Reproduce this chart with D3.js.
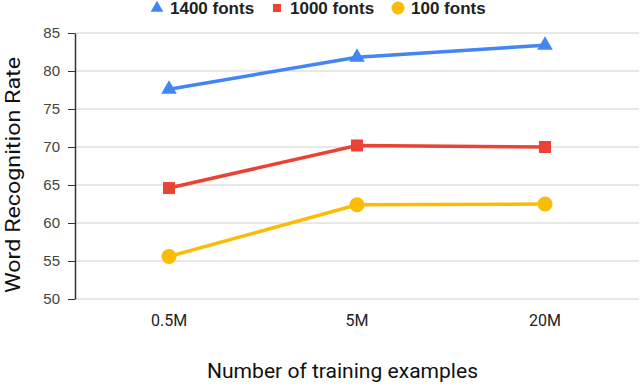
<!DOCTYPE html>
<html>
<head>
<meta charset="utf-8">
<script src="https://cdn.jsdelivr.net/npm/d3@7"></script>
<style>
  body { margin: 0; background: #fff; }
  text { font-family: Roboto, Arial, sans-serif; }
</style>
</head>
<body>
<div id="chart"></div>
<script>
// Chart data
let categories = ['0.5M', '5M', '20M'];
let seriesNames = ['1400 fonts', '1000 fonts', '100 fonts'];
let fonts1400 = [77.6, 81.8, 83.4];
let fonts1000 = [64.6, 70.2, 70.0];
let fonts100 = [55.6, 62.4, 62.5];
let yTicks = [50, 55, 60, 65, 70, 75, 80, 85];

let colors = ['#4285F4', '#EA4335', '#FBBC04'];
let symbols = [d3.symbolTriangle, d3.symbolSquare, d3.symbolCircle];
let symbolSizes = [105, 144, 177];
let legendSizes = [70, 64, 133];
let series = [fonts1400, fonts1000, fonts100];

let width = 640, height = 386;
let margin = { top: 33, right: 1, bottom: 87, left: 75 };

let svg = d3.select('#chart')
    .append('svg')
    .attr('width', width)
    .attr('height', height);

let xScale = d3.scaleBand()
    .domain(categories)
    .range([margin.left, width - margin.right]);

let yScale = d3.scaleLinear()
    .domain([50, 85])
    .range([height - margin.bottom, margin.top]);

// gridlines
svg.append('g')
    .selectAll('line')
    .data(yTicks)
    .enter().append('line')
    .attr('x1', margin.left)
    .attr('x2', width - margin.right)
    .attr('y1', d => yScale(d))
    .attr('y2', d => yScale(d))
    .style('stroke', '#d0d0d0')
    .style('stroke-width', 1);

// y axis
let yNode = svg.append('g')
    .attr('transform', 'translate(' + margin.left + ',0)')
    .call(d3.axisLeft(yScale).tickValues(yTicks).tickSize(7).tickSizeOuter(0).tickPadding(8));
yNode.select('path').style('stroke', '#333').style('stroke-width', 1.5);
yNode.selectAll('line').style('stroke', '#333');
yNode.selectAll('text')
    .style('fill', '#444')
    .style('font-size', '15px')
    .style('font-family', 'Liberation Sans, Arial, sans-serif');

// x axis labels
let xNode = svg.append('g')
    .attr('transform', 'translate(0,' + (height - margin.bottom) + ')')
    .call(d3.axisBottom(xScale).tickSize(0).tickPadding(16));
xNode.select('path').remove();
xNode.selectAll('text').style('fill', '#222').style('font-size', '16px');

// axis titles
svg.append('text')
    .attr('transform', 'translate(20,175) rotate(-90)')
    .attr('text-anchor', 'middle')
    .attr('textLength', 236)
    .attr('lengthAdjust', 'spacingAndGlyphs')
    .style('font-size', '21px')
    .style('fill', '#111')
    .text('Word Recognition Rate');

svg.append('text')
    .attr('x', 342.5)
    .attr('y', 378)
    .attr('text-anchor', 'middle')
    .attr('textLength', 271)
    .attr('lengthAdjust', 'spacingAndGlyphs')
    .style('font-size', '20px')
    .style('fill', '#111')
    .text('Number of training examples');

// lines and markers
let lineFunction = d3.line()
    .x((d, i) => xScale(categories[i]) + xScale.bandwidth() / 2)
    .y(d => yScale(d));

series.forEach(function (values, s) {
    svg.append('path')
        .attr('d', lineFunction(values))
        .style('fill', 'none')
        .style('stroke', colors[s])
        .style('stroke-width', 3.5);

    svg.append('g')
        .selectAll('path')
        .data(values)
        .enter().append('path')
        .attr('transform', (d, i) => 'translate(' + (xScale(categories[i]) + xScale.bandwidth() / 2) + ',' + yScale(d) + ')')
        .attr('d', d3.symbol().type(symbols[s]).size(symbolSizes[s]))
        .style('fill', colors[s]);
});

// legend
let legendX = [157, 277, 398];
let legend = svg.append('g');
seriesNames.forEach(function (name, s) {
    legend.append('path')
        .attr('transform', 'translate(' + legendX[s] + ',8)')
        .attr('d', d3.symbol().type(symbols[s]).size(legendSizes[s]))
        .style('fill', colors[s]);
    legend.append('text')
        .attr('x', legendX[s] + 13)
        .attr('y', 14)
        .style('font-size', '17px')
        .style('font-weight', 'bold')
        .style('font-family', 'Liberation Sans, Arial, sans-serif')
        .style('fill', '#222')
        .text(name);
});
</script>
</body>
</html>
